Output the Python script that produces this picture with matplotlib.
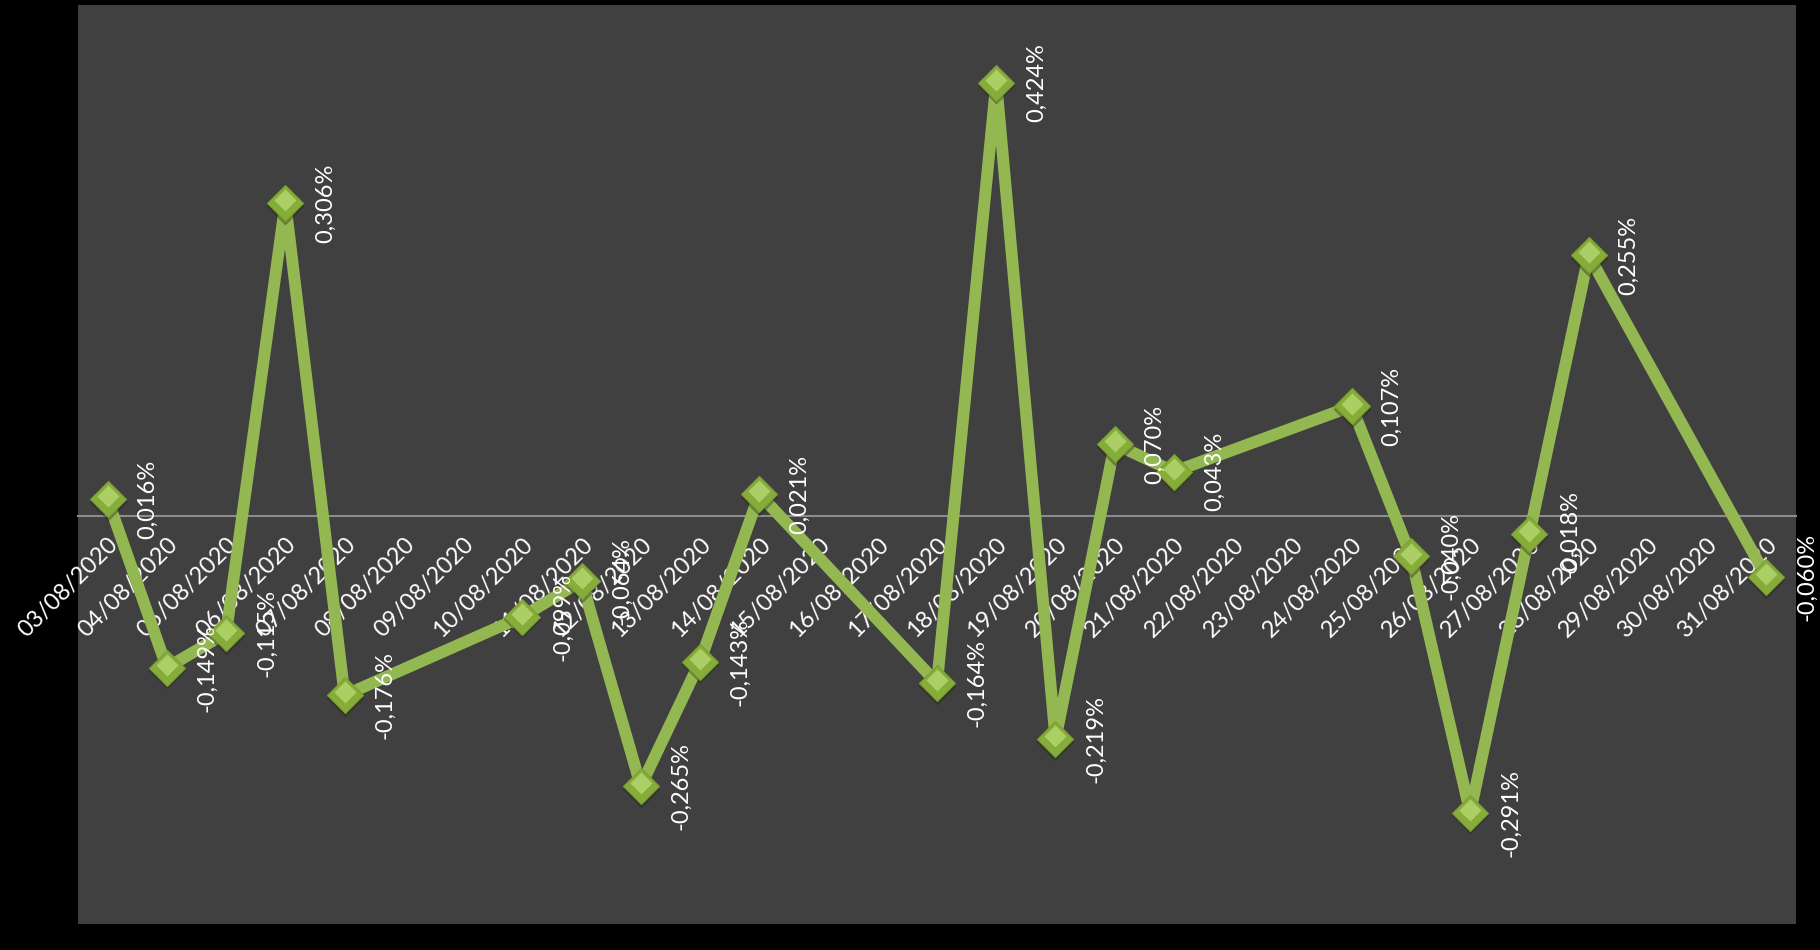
import matplotlib
matplotlib.use("Agg")
import matplotlib.pyplot as plt
import matplotlib.transforms as mtransforms

plt.rcParams['font.family'] = ['Lato', 'DejaVu Sans']

# Category axis: every calendar day
categories = ["03/08/2020", "04/08/2020", "05/08/2020", "06/08/2020", "07/08/2020",
              "08/08/2020", "09/08/2020", "10/08/2020", "11/08/2020", "12/08/2020",
              "13/08/2020", "14/08/2020", "15/08/2020", "16/08/2020", "17/08/2020",
              "18/08/2020", "19/08/2020", "20/08/2020", "21/08/2020", "22/08/2020",
              "23/08/2020", "24/08/2020", "25/08/2020", "26/08/2020", "27/08/2020",
              "28/08/2020", "29/08/2020", "30/08/2020", "31/08/2020"]

# Trading days with values (%)
trade_dates = ["03/08/2020", "04/08/2020", "05/08/2020", "06/08/2020", "07/08/2020",
               "10/08/2020", "11/08/2020", "12/08/2020", "13/08/2020", "14/08/2020",
               "17/08/2020", "18/08/2020", "19/08/2020", "20/08/2020", "21/08/2020",
               "24/08/2020", "25/08/2020", "26/08/2020", "27/08/2020", "28/08/2020",
               "31/08/2020"]
returns = [0.016, -0.149, -0.115, 0.306, -0.176,
           -0.099, -0.064, -0.265, -0.143, 0.021,
           -0.164, 0.424, -0.219, 0.070, 0.043,
           0.107, -0.040, -0.291, -0.018, 0.255,
           -0.060]

W, H = 1820, 950
fig = plt.figure(figsize=(W / 100, H / 100), dpi=100)
fig.patch.set_facecolor('black')
ax = fig.add_axes([78 / W, 1 - 924 / H, (1796 - 78) / W, (924 - 5) / H])
ax.set_facecolor('#404040')

xs = [categories.index(d) for d in trade_dates]
line_color = '#93B852'

ax.plot(xs, returns, color=line_color, lw=8.5, solid_joinstyle='round',
        solid_capstyle='round', zorder=3)
# marker shadow
ax.plot(xs, returns, ls='none', marker='D', ms=19, mfc='#252a15', mec='none',
        alpha=0.4, zorder=4, transform=ax.transData +
        mtransforms.ScaledTranslation(0, -2 / 72, fig.dpi_scale_trans))
# main marker
ax.plot(xs, returns, ls='none', marker='D', ms=18, mfc='#86AC3A', mec='#7A9E30',
        mew=0.8, zorder=5)
# highlight
ax.plot(xs, returns, ls='none', marker='D', ms=11, mfc='#B6D870', mec='none',
        alpha=0.8, zorder=6, transform=ax.transData +
        mtransforms.ScaledTranslation(0, 2 / 72, fig.dpi_scale_trans))

for x, v in zip(xs, returns):
    txt = f"{v:.3f}%".replace('.', ',')
    ax.annotate(txt, (x, v), xytext=(29, 0), textcoords='offset points',
                rotation=90, ha='center', va='center', color='white',
                fontsize=17, annotation_clip=False, zorder=7)

ax.set_xlim(-0.5, len(categories) - 0.5)
ax.set_ylim(-0.4, 0.5)

for s in ['top', 'right', 'left']:
    ax.spines[s].set_visible(False)
ax.spines['bottom'].set_position(('data', 0))
ax.spines['bottom'].set_color('#8C8C8C')
ax.spines['bottom'].set_linewidth(1.5)
ax.spines['bottom'].set_zorder(2)

ax.set_yticks([])
ax.set_xticks(range(len(categories)))
ax.set_xticklabels(categories, rotation=45, ha='right', rotation_mode='anchor',
                   color='white', fontsize=17)
ax.tick_params(axis='x', length=0, pad=13)

fig.savefig('out.png', dpi=100, facecolor='black')
